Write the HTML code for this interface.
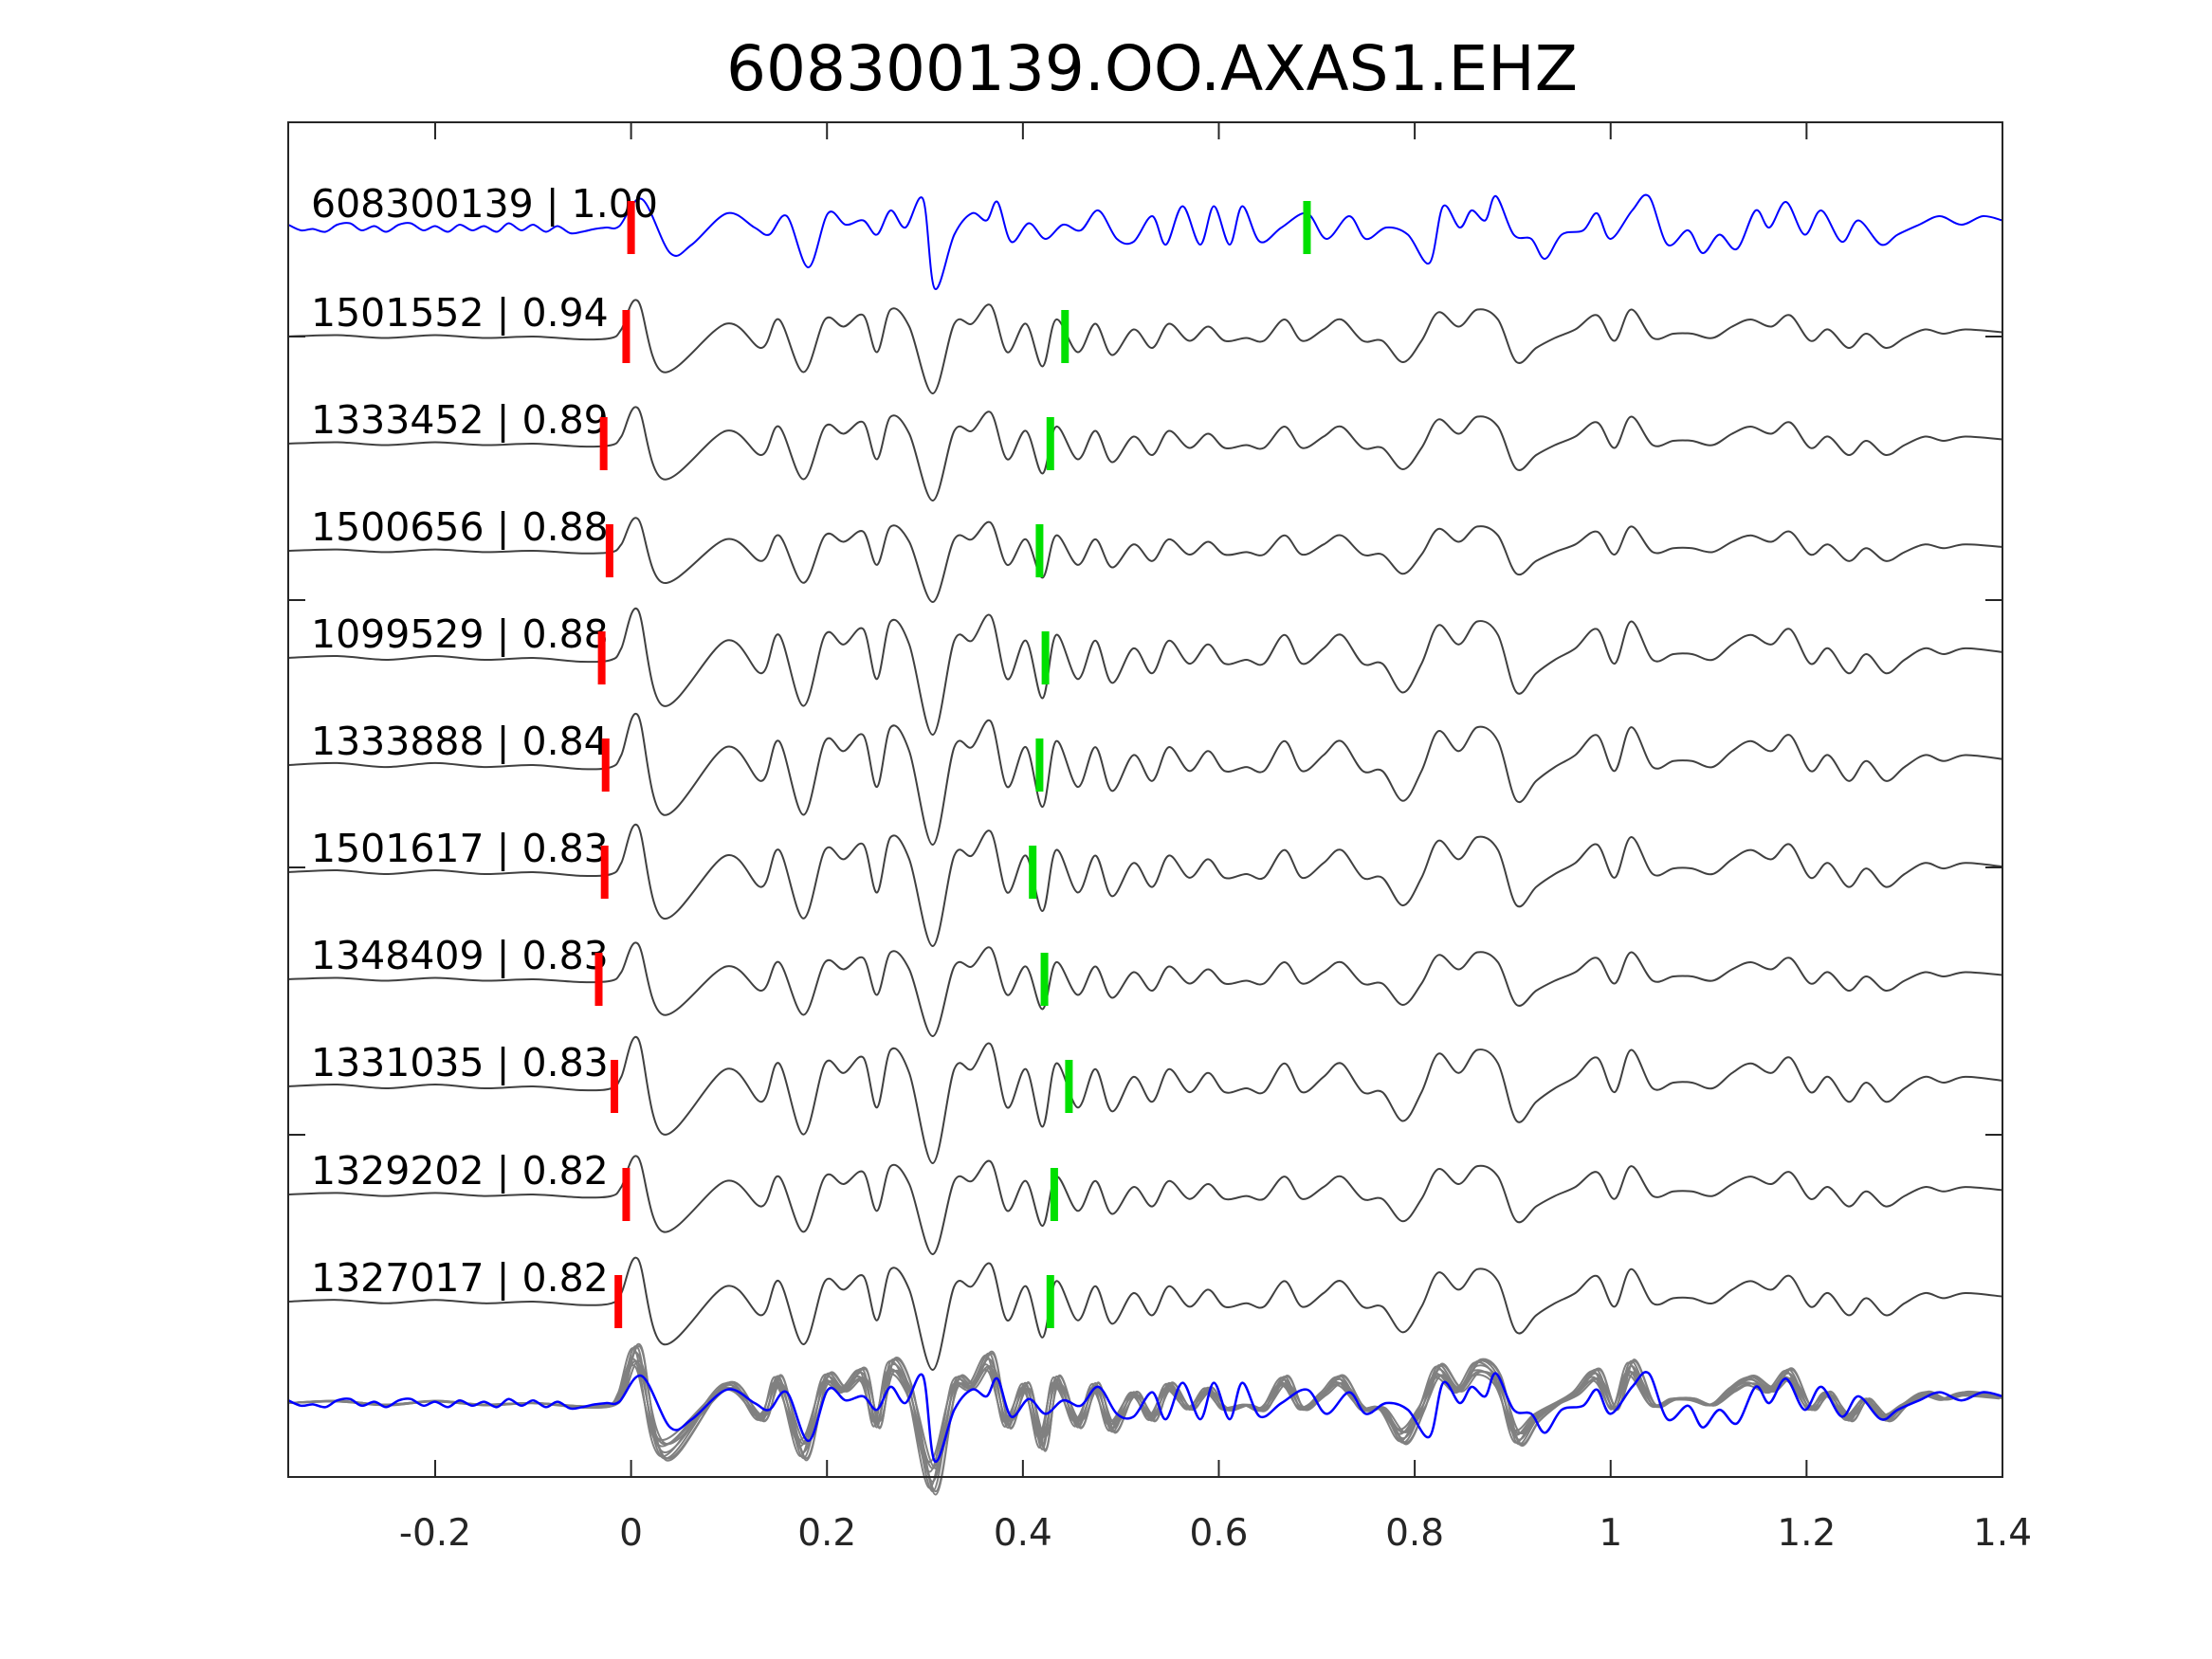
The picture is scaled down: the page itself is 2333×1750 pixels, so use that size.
<!DOCTYPE html>
<html><head><meta charset="utf-8"><style>
html,body{margin:0;padding:0;background:#fff;}
svg{display:block;font-family:"DejaVu Sans","Liberation Sans",sans-serif;}
</style></head><body>
<svg id="chart" width="2333" height="1750" viewBox="0 0 2333 1750" xmlns="http://www.w3.org/2000/svg">
<text x="1215" y="95" font-size="66" text-anchor="middle" fill="#000">608300139.OO.AXAS1.EHZ</text>
<g id="plot"></g>
</svg>
<script>
// ---- data ----
const traceIds = ["608300139","1501552","1333452","1500656","1099529","1333888","1501617","1348409","1331035","1329202","1327017"];
const corr = ["1.00","0.94","0.89","0.88","0.88","0.84","0.83","0.83","0.83","0.82","0.82"];
const redPicks = [0.0,-0.005,-0.028,-0.022,-0.03,-0.026,-0.027,-0.033,-0.017,-0.005,-0.013];
const greenPicks = [0.69,0.443,0.428,0.417,0.423,0.417,0.41,0.422,0.447,0.432,0.428];
const traceAmps = [1.0,1.0,1.0,0.9,1.35,1.4,1.3,1.0,1.35,1.05,1.2];
const xTicks = [-0.2,0,0.2,0.4,0.6,0.8,1,1.2,1.4];
const xTickLabels = ["-0.2","0","0.2","0.4","0.6","0.8","1","1.2","1.4"];
// gray template (times s, amplitude units)
const grayT = [-0.35,-0.3,-0.25,-0.2,-0.15,-0.1,-0.05,-0.02,-0.01,0.007,0.033,0.097,0.133,0.151,0.176,0.198,0.217,0.237,0.251,0.265,0.284,0.308,0.330,0.348,0.367,0.384,0.403,0.420,0.434,0.456,0.474,0.491,0.513,0.532,0.549,0.570,0.589,0.606,0.628,0.646,0.667,0.685,0.707,0.725,0.747,0.767,0.788,0.807,0.824,0.845,0.864,0.885,0.904,0.924,0.943,0.964,0.986,1.004,1.021,1.043,1.064,1.083,1.104,1.124,1.143,1.164,1.183,1.204,1.222,1.243,1.261,1.281,1.300,1.321,1.340,1.362,1.400];
const grayV = [0,1,-1,1,-1,0,-2,-1,5,25,-25,9,-8,12,-25,12,7,15,-11,19,7,-40,9,9,22,-11,9,-21,12,-11,9,-13,5,-8,9,-3,7,-3,-1,-3,12,-3,5,12,-3,-3,-18,-3,17,7,19,12,-18,-8,-1,5,15,-3,19,-1,2,2,-1,7,12,7,15,-3,5,-8,2,-8,-1,5,2,5,3];
// blue master trace
const blueT = [-0.35,-0.337,-0.325,-0.312,-0.3,-0.287,-0.275,-0.262,-0.25,-0.237,-0.225,-0.212,-0.2,-0.187,-0.175,-0.162,-0.15,-0.137,-0.125,-0.112,-0.1,-0.087,-0.075,-0.062,-0.05,-0.037,-0.025,-0.012,0.011,0.040,0.062,0.098,0.126,0.141,0.159,0.181,0.201,0.219,0.237,0.251,0.265,0.280,0.298,0.310,0.330,0.348,0.363,0.374,0.388,0.406,0.423,0.441,0.459,0.477,0.496,0.513,0.532,0.546,0.563,0.581,0.595,0.611,0.624,0.642,0.664,0.690,0.710,0.733,0.750,0.771,0.793,0.815,0.829,0.846,0.858,0.872,0.883,0.901,0.919,0.933,0.950,0.972,0.986,1.000,1.022,1.039,1.058,1.079,1.094,1.111,1.129,1.148,1.162,1.179,1.198,1.215,1.236,1.253,1.276,1.293,1.315,1.336,1.358,1.380,1.400];
const blueV = [2,-2,-1,-3,2,3,-2,1,-3,2,3,-2,1,-3,2,-2,1,-3,3,-2,2,-3,1,-4,-3,-1,0,1,20,-18,-12,10,0,-5,8,-28,10,2,5,-5,12,0,20,-43,-5,10,5,18,-10,3,-8,2,-2,12,-8,-10,8,-12,15,-12,15,-12,15,-10,0,10,-8,8,-8,0,-5,-25,15,0,12,5,22,-5,-8,-22,-5,-2,10,-8,12,22,-12,-2,-18,-5,-15,12,0,18,-5,12,-10,5,-12,-5,2,8,2,8,5];

// ---- layout ----
const L=304,R=2112,T=129,B=1558,x0=-0.35,x1=1.4;
const X=t=>L+(t-x0)/(x1-x0)*(R-L);
const centers=[240,355,468,581,694,807,920,1033,1146,1260,1373];
const stackC=1480, S=1.5;
const NS="http://www.w3.org/2000/svg";
const g=document.getElementById('plot');
function mk(tag,attrs){const e=document.createElementNS(NS,tag);for(const k in attrs)e.setAttribute(k,attrs[k]);g.appendChild(e);return e;}
function path(ts,vs,cy,amp,shift){
  const P=[];
  const n=Math.min(ts.length,vs.length);
  for(let i=0;i<n;i++){const t=Math.min(Math.max(ts[i]+shift,x0),x1);P.push([X(t),cy-vs[i]*S*amp]);}
  let d="M"+P[0][0].toFixed(1)+","+P[0][1].toFixed(1);
  for(let i=0;i<P.length-1;i++){
    const p0=P[Math.max(i-1,0)],p1=P[i],p2=P[i+1],p3=P[Math.min(i+2,P.length-1)];
    const c1=[p1[0]+(p2[0]-p0[0])/6,p1[1]+(p2[1]-p0[1])/6];
    const c2=[p2[0]-(p3[0]-p1[0])/6,p2[1]-(p3[1]-p1[1])/6];
    d+="C"+c1[0].toFixed(1)+","+c1[1].toFixed(1)+" "+c2[0].toFixed(1)+","+c2[1].toFixed(1)+" "+p2[0].toFixed(1)+","+p2[1].toFixed(1);
  }
  return d;
}

// stack
for(let k=1;k<traceIds.length;k++){
  const p=mk('path',{d:path(grayT,grayV,stackC,traceAmps[k]*1.15,(k%3-1)*0.003),fill:'none',stroke:'#808080','stroke-width':2});
  
  
}
const sb=mk('path',{d:path(blueT,blueV,stackC,0.95,0),fill:'none',stroke:'#0000ff','stroke-width':2.5});



for(let k=0;k<traceIds.length;k++){
  const cy=centers[k];
  const blue=k===0;
  const p=mk('path',{d:blue?path(blueT,blueV,cy,1,0):path(grayT,grayV,cy,traceAmps[k],0),fill:'none',stroke:blue?'#0000ff':'#404040','stroke-width':2});
  
  
  const lb=mk('text',{x:328,y:cy-11,'font-size':41,fill:'#000'});
  lb.textContent=traceIds[k]+" | "+corr[k];
  
  
  const rp=mk('rect',{x:X(redPicks[k])-4,y:cy-28,width:8,height:56,fill:'#ff0000'});
  
  
  const gp=mk('rect',{x:X(greenPicks[k])-4,y:cy-28,width:8,height:56,fill:'#00e000'});
  
  
}

// axes box
const box=mk('rect',{x:L,y:T,width:R-L,height:B-T,fill:'none',stroke:'#262626','stroke-width':2});


xTicks.forEach((v,i)=>{
  const x=X(v);
  const t1=mk('line',{x1:x,x2:x,y1:B,y2:B-18,stroke:'#262626','stroke-width':2});
  
  
  const t2=mk('line',{x1:x,x2:x,y1:T,y2:T+18,stroke:'#262626','stroke-width':2});
  
  
  const tl=mk('text',{x:x,y:1630,'font-size':39,'text-anchor':'middle',fill:'#262626'});
  tl.textContent=xTickLabels[i];
  
  
});
[355,633,915,1197].forEach(y=>{
  const a=mk('line',{x1:L,x2:L+18,y1:y,y2:y,stroke:'#262626','stroke-width':2});
  
  
  const b=mk('line',{x1:R,x2:R-18,y1:y,y2:y,stroke:'#262626','stroke-width':2});
  
  
});
</script>
</body></html>
